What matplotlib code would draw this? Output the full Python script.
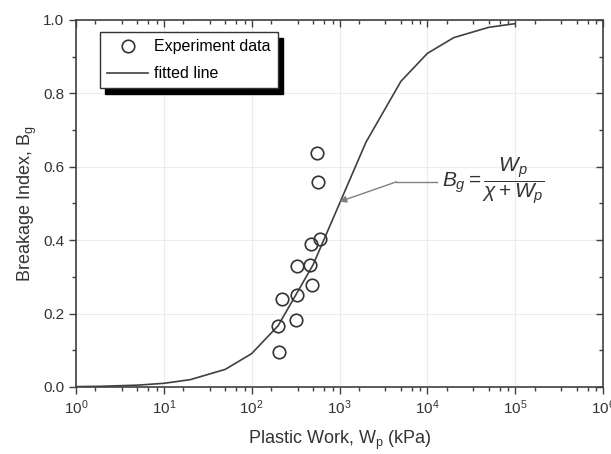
import matplotlib
matplotlib.use("Agg")
import matplotlib.pyplot as plt
from matplotlib.ticker import LogLocator, MultipleLocator, FormatStrFormatter, NullFormatter

plt.rcParams["font.family"] = ["Liberation Sans", "DejaVu Sans"]
plt.rcParams["mathtext.fontset"] = "custom"
plt.rcParams["mathtext.rm"] = "Liberation Sans"
plt.rcParams["mathtext.it"] = "Liberation Sans:italic"
plt.rcParams["mathtext.bf"] = "Liberation Sans:bold"

# experiment data
exp_wp = [558, 567, 593, 477, 464, 327, 490, 327, 221, 322, 199, 203]
exp_bg = [0.638, 0.558, 0.403, 0.390, 0.332, 0.331, 0.277, 0.251, 0.240, 0.183, 0.167, 0.095]

# fitted line vertices
fit_wp = [1, 2, 5, 10, 20, 50, 100, 200, 500, 1000, 2000, 5000, 10000, 20000, 50000, 100000]
fit_bg = [0.001, 0.002, 0.005, 0.010, 0.020, 0.048, 0.091, 0.167, 0.333, 0.500,
          0.667, 0.833, 0.909, 0.952, 0.980, 0.990]

fig = plt.figure(figsize=(6.11, 4.54), dpi=100)
ax = fig.add_axes([0.1244, 0.1476, 0.8626, 0.8084])

ax.plot(exp_wp, exp_bg, "o", ms=9, mfc="none", mec="#333333", mew=1.2,
        label="Experiment data", zorder=3)
ax.plot(fit_wp, fit_bg, "-", color="#404040", lw=1.2, label="fitted line", zorder=2)

ax.set_xscale("log")
ax.set_xlim(1, 1e6)
ax.set_ylim(0, 1.0)
ax.xaxis.set_major_locator(LogLocator(base=10, numticks=10))
ax.xaxis.set_minor_locator(LogLocator(base=10, subs=[10 / 6 * k for k in range(1, 6)], numticks=20))
ax.xaxis.set_minor_formatter(NullFormatter())
ax.yaxis.set_major_locator(MultipleLocator(0.2))
ax.yaxis.set_minor_locator(MultipleLocator(0.1))
ax.yaxis.set_major_formatter(FormatStrFormatter("%.1f"))

ax.grid(True, which="major", color="#ececec", lw=0.8)
ax.set_axisbelow(True)
for s in ax.spines.values():
    s.set_color("#404040")
    s.set_linewidth(1.2)

ax.tick_params(which="both", direction="out", top=True, right=True,
               labeltop=False, labelright=False,
               colors="#404040", labelcolor="#333333", labelsize=11)
ax.tick_params(which="major", length=5, width=1)
ax.tick_params(which="minor", length=3, width=1)
# top / right ticks point inward
for t in ax.xaxis.get_major_ticks() + ax.xaxis.get_minor_ticks():
    t.tick2line.set_marker(3)
for t in ax.yaxis.get_major_ticks() + ax.yaxis.get_minor_ticks():
    t.tick2line.set_marker(0)

ax.set_xlabel(r"Plastic Work, W$_\mathrm{p}$ (kPa)", fontsize=13, color="#333333", labelpad=8)
ax.set_ylabel(r"Breakage Index, B$_\mathrm{g}$", fontsize=13, color="#333333", labelpad=3)

leg = ax.legend(loc="upper left", bbox_to_anchor=(0.045, 0.967), borderaxespad=0,
                fontsize=11.5, frameon=True, fancybox=False, edgecolor="#333333",
                shadow={"color": "black", "alpha": 1, "ox": 4, "oy": -4},
                handlelength=2.6, handletextpad=0.35, borderpad=0.45, labelspacing=0.75)
leg.get_frame().set_linewidth(1.0)

ax.annotate("", xy=(1000, 0.505), xytext=(4444, 0.559),
            arrowprops=dict(arrowstyle="-|>", color="#808080", lw=1, mutation_scale=10,
                            shrinkA=0, shrinkB=0), zorder=4)
ax.plot([4444, 13000], [0.559, 0.559], color="#808080", lw=1)
ax.text(14500, 0.559, r"$B_g=\dfrac{W_p}{\chi+W_p}$", fontsize=15, color="#333333",
        va="center", ha="left")

fig.savefig("out.png", dpi=100)
